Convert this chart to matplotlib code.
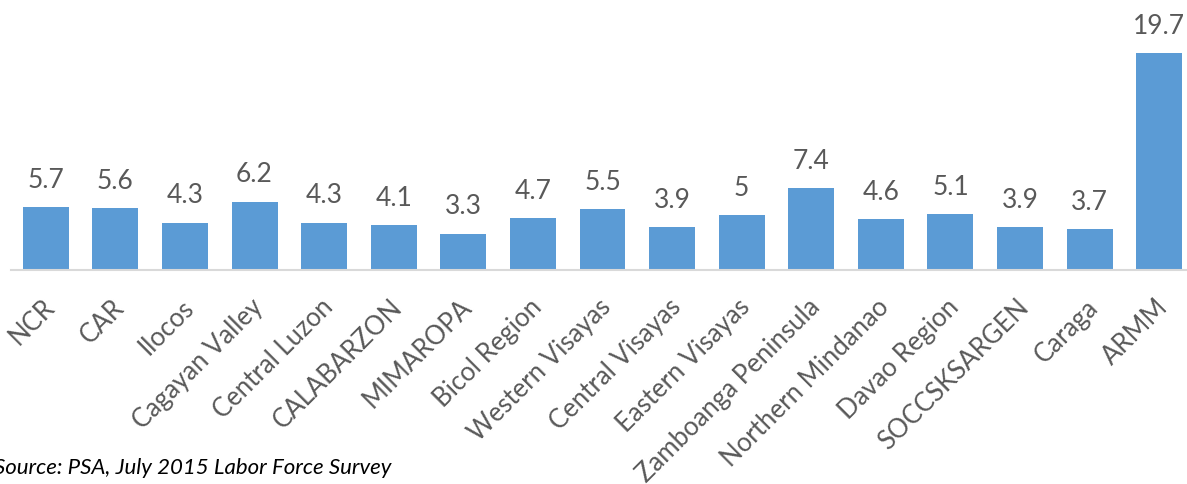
import numpy as np
import matplotlib.pyplot as plt
from matplotlib.transforms import ScaledTranslation

regions = ['NCR', 'CAR', 'Ilocos', 'Cagayan Valley', 'Central Luzon', 'CALABARZON',
           'MIMAROPA', 'Bicol Region', 'Western Visayas', 'Central Visayas',
           'Eastern Visayas', 'Zamboanga Peninsula', 'Northern Mindanao',
           'Davao Region', 'SOCCSKSARGEN', 'Caraga', 'ARMM']
rates = [5.7, 5.6, 4.3, 6.2, 4.3, 4.1, 3.3, 4.7, 5.5, 3.9, 5, 7.4, 4.6, 5.1, 3.9, 3.7, 19.7]
rate_labels = ['5.7', '5.6', '4.3', '6.2', '4.3', '4.1', '3.3', '4.7', '5.5', '3.9',
               '5', '7.4', '4.6', '5.1', '3.9', '3.7', '19.7']

plt.rcParams['font.family'] = ['Lato', 'DejaVu Sans']

fig = plt.figure(figsize=(11.87, 4.85), dpi=100)
W, H = 1187, 485
# axes from x=11px to 1194px, baseline at y=271px
ax = fig.add_axes([11 / W, (H - 271) / H, (1194 - 11) / W, 271 / H])

x = np.arange(len(regions))
bars = ax.bar(x, rates, width=0.66, color='#5B9BD5')
ax.set_xlim(-0.5, len(regions) - 0.5)
ax.set_ylim(0, 24.6)

for xi, v, lab in zip(x, rates, rate_labels):
    ax.annotate(lab, (xi, v), xytext=(0, 11), textcoords='offset points',
                ha='center', va='bottom', fontsize=19, color='#595959')

ax.set_xticks(x)
ax.set_xticklabels(regions, rotation=45, ha='right', rotation_mode='anchor',
                   fontsize=18.5, color='#595959')
ax.tick_params(axis='x', length=0, pad=17)
# nudge labels a bit left so they end under the bar centre
shift = ScaledTranslation(-3 / 72, 0, fig.dpi_scale_trans)
for lbl in ax.get_xticklabels():
    lbl.set_transform(lbl.get_transform() + shift)
ax.set_yticks([])
for s in ['top', 'right', 'left']:
    ax.spines[s].set_visible(False)
ax.spines['bottom'].set_color('#D9D9D9')
ax.spines['bottom'].set_linewidth(1.5)

fig.text(-6 / W, (H - 468) / H, 'Source: PSA, July 2015 Labor Force Survey',
         fontsize=16, style='italic', color='black', va='center', ha='left')

fig.savefig('out.png', dpi=100)
